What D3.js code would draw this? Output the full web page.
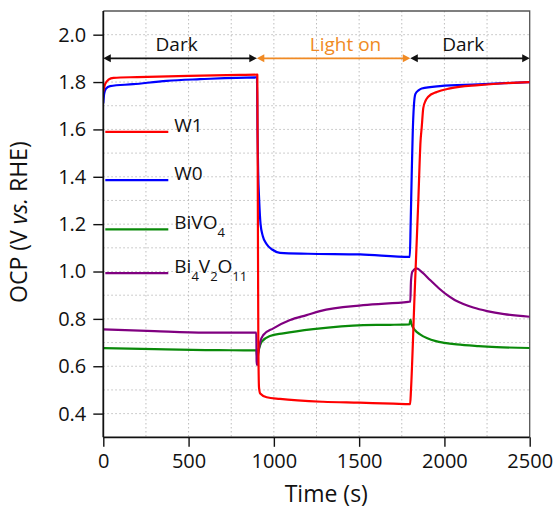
<!DOCTYPE html>
<meta charset="utf-8">
<style>
body { margin: 0; background: #fff; }
text { font-family: "Open Sans", sans-serif; fill: #111; }
.axis path, .axis line { stroke: #111; }
.grid line { stroke: #bdbdbd; stroke-dasharray: 1.5,2.5; }
.curve { fill: none; stroke-width: 2.2; stroke-linejoin: round; }
</style>
<body>
<script src="https://cdn.jsdelivr.net/npm/d3@7"></script>
<script>
// values: [time (s), OCP (V vs. RHE)]
var w1Data = [
    [0, 1.76], [10, 1.79], [30, 1.81], [60, 1.818], [200, 1.821], [500, 1.826], [800, 1.83], [903, 1.831],
    [906, 1.3], [909, 0.7], [913, 0.51], [920, 0.485], [958, 0.469], [1036, 0.462], [1288, 0.45],
    [1500, 0.446], [1700, 0.442], [1799, 0.44],
    [1804, 0.5], [1825, 0.9], [1847, 1.3], [1860, 1.55], [1867, 1.61], [1876, 1.69], [1890, 1.722],
    [1905, 1.738], [1955, 1.758], [2033, 1.773], [2200, 1.787], [2350, 1.795], [2500, 1.8]
]
var w0Data = [
    [0, 1.71], [5, 1.75], [15, 1.772], [40, 1.783], [175, 1.791], [372, 1.805], [567, 1.812], [901, 1.82],
    [904, 1.6], [908, 1.42], [914, 1.3], [922, 1.2], [935, 1.15], [958, 1.115], [990, 1.093],
    [1036, 1.079], [1200, 1.075], [1505, 1.072], [1797, 1.062],
    [1802, 1.2], [1808, 1.4], [1814, 1.58], [1821, 1.7], [1830, 1.75], [1850, 1.766], [1867, 1.773],
    [1974, 1.783], [2200, 1.79], [2500, 1.8]
]
var bivo4Data = [
    [0, 0.677], [300, 0.672], [600, 0.668], [898, 0.667], [902, 0.64], [910, 0.665], [929, 0.704],
    [977, 0.728], [1055, 0.739], [1231, 0.757], [1524, 0.774], [1681, 0.775], [1795, 0.777],
    [1801, 0.797], [1806, 0.78], [1828, 0.752], [1857, 0.735], [1900, 0.718], [1950, 0.706],
    [2000, 0.699], [2072, 0.692], [2200, 0.685], [2306, 0.681], [2500, 0.677]
]
var bi4v2o11Data = [
    [0, 0.756], [300, 0.748], [600, 0.742], [897, 0.742], [899, 0.62], [902, 0.605], [907, 0.645],
    [919, 0.7], [938, 0.732], [997, 0.76], [1095, 0.795], [1192, 0.816], [1270, 0.833], [1524, 0.858],
    [1788, 0.872], [1800, 0.873], [1804, 0.96], [1812, 1.0], [1837, 1.013], [1870, 0.996],
    [1916, 0.964], [1974, 0.925], [2013, 0.902], [2060, 0.88], [2111, 0.863], [2169, 0.848],
    [2250, 0.833], [2350, 0.82], [2500, 0.809]
]

var seriesNames = ['BiVO4', 'Bi4V2O11', 'W0', 'W1']
var seriesColors = ['#0a8a0a', '#800080', '#0000ff', '#ff0000']
var seriesData = [bivo4Data, bi4v2o11Data, w0Data, w1Data]

// legend, top to bottom
var legendNames = ['W1', 'W0', 'BiVO4', 'Bi4V2O11']
var legendLabels = [
    [['W1', 0]], [['W0', 0]],
    [['BiVO', 0], ['4', 1]],
    [['Bi', 0], ['4', 1], ['V', 0], ['2', 1], ['O', 0], ['11', 1]]
]

// period arrows at OCP = 1.9
var periodNames = ['Dark', 'Light on', 'Dark']
var periodStart = [0, 900, 1800]
var periodEnd = [900, 1800, 2500]
var periodLabelAt = [430, 1420, 2110]
var periodColors = ['#111', '#f08a24', '#111']

var xMajor = [0, 500, 1000, 1500, 2000, 2500]
var yMajor = [0.4, 0.6, 0.8, 1.0, 1.2, 1.4, 1.6, 1.8, 2.0]

var margin = { top: 11, right: 30.3, bottom: 72.7, left: 103.3 }
var width = 560 - margin.left - margin.right
var height = 510 - margin.top - margin.bottom

var x = d3.scaleLinear().domain([0, 2500]).range([0, width])
var y = d3.scaleLinear().domain([0.3, 2.1]).range([height, 0])

var svg = d3.select('body').append('svg')
    .attr('width', 560)
    .attr('height', 510)
    .append('g')
    .attr('transform', 'translate(' + margin.left + ',' + margin.top + ')')

svg.append('clipPath').attr('id', 'clip')
    .append('rect').attr('width', width).attr('height', height)

// dotted grid on every major and minor tick
var gridX = d3.range(250, 2500, 250)
var gridY = d3.range(4, 21).map(function (d) { return d / 10 })
var grid = svg.append('g').attr('class', 'grid')
grid.selectAll('.gx').data(gridX).enter().append('line')
    .attr('x1', x).attr('x2', x).attr('y1', 0).attr('y2', height)
grid.selectAll('.gy').data(gridY).enter().append('line')
    .attr('y1', y).attr('y2', y).attr('x1', 0).attr('x2', width)

// frame on top and right
svg.append('path')
    .attr('d', 'M0,0H' + width + 'V' + height)
    .attr('fill', 'none')
    .attr('stroke', '#555')
    .attr('stroke-width', 1.3)

var line = d3.line()
    .x(function (d) { return x(d[0]) })
    .y(function (d) { return y(d[1]) })
    .curve(d3.curveMonotoneX)

svg.append('g').attr('clip-path', 'url(#clip)')
    .selectAll('.curve')
    .data(seriesData)
    .enter().append('path')
    .attr('class', 'curve')
    .attr('stroke', function (d, i) { return seriesColors[i] })
    .attr('d', line)

// axes: major ticks with labels, minor ticks without
var gx = svg.append('g').attr('class', 'axis')
    .attr('transform', 'translate(0,' + height + ')')
gx.call(d3.axisBottom(x).tickValues(d3.range(250, 2500, 500)).tickSize(5).tickFormat(''))
gx.call(d3.axisBottom(x).tickValues(xMajor).tickSize(9.5).tickPadding(6).tickFormat(d3.format('d')))
var gy = svg.append('g').attr('class', 'axis')
gy.call(d3.axisLeft(y).tickValues([0.3, 0.5, 0.7, 0.9, 1.1, 1.3, 1.5, 1.7, 1.9, 2.1]).tickSize(5).tickFormat(''))
gy.call(d3.axisLeft(y).tickValues(yMajor).tickSize(10).tickPadding(7).tickFormat(d3.format('.1f')))
svg.selectAll('.axis path').attr('stroke-width', 1.8)
svg.selectAll('.axis line').attr('stroke-width', 1.4)
svg.selectAll('.axis text').style('font-size', '20px').attr('fill', '#111')
gx.selectAll('text').attr('dy', '0.78em')
gx.select('.domain').attr('d', 'M0,0H' + width)
gy.select('.domain').attr('d', 'M0,0V' + height)

// period arrows
var ay = y(1.9)
var periods = svg.selectAll('.period')
    .data(periodNames)
    .enter().append('g')
    .attr('class', 'period')
periods.append('line')
    .attr('x1', function (d, i) { return x(periodStart[i]) + 4 })
    .attr('x2', function (d, i) { return x(periodEnd[i]) - 4 })
    .attr('y1', ay).attr('y2', ay)
    .attr('stroke', function (d, i) { return periodColors[i] })
    .attr('stroke-width', 1.8)
periods.append('path')
    .attr('fill', function (d, i) { return periodColors[i] })
    .attr('d', function (d, i) {
        var a = x(periodStart[i]), b = x(periodEnd[i])
        return 'M' + a + ',' + ay + 'l7.5,-4v8z' +
            'M' + b + ',' + ay + 'l-7.5,-4v8z'
    })
periods.append('text')
    .attr('x', function (d, i) { return x(periodLabelAt[i]) })
    .attr('y', ay - 7)
    .attr('text-anchor', 'middle')
    .style('font-size', '19px')
    .style('fill', function (d, i) { return periodColors[i] })
    .text(function (d) { return d })

// legend
var legendY = [1.59, 1.386, 1.178, 0.993]
var legend = svg.selectAll('.legend')
    .data(legendNames)
    .enter().append('g')
    .attr('class', 'legend')
    .attr('transform', function (d, i) { return 'translate(2,' + y(legendY[i]) + ')' })
legend.append('line')
    .attr('x1', 0).attr('x2', 63)
    .attr('stroke-width', 2.2)
    .attr('stroke', function (d) { return seriesColors[seriesNames.indexOf(d)] })
legend.append('text')
    .attr('x', 69)
    .attr('dy', '0.36em')
    .style('font-size', '19px')
    .each(function (d, i) {
        var t = d3.select(this)
        var sub = false
        legendLabels[i].forEach(function (p) {
            var dy = p[1] && !sub ? 8 : (!p[1] && sub ? -8 : 0)
            sub = !!p[1]
            t.append('tspan')
                .attr('dy', dy)
                .style('font-size', p[1] ? '13px' : '19px')
                .text(p[0])
        })
    })

// axis titles
svg.append('text')
    .attr('x', 223)
    .attr('y', 491)
    .attr('text-anchor', 'middle')
    .style('font-size', '23px')
    .text('Time (s)')
var yt = svg.append('text')
    .attr('transform', 'translate(-76,' + (height / 2 - 2) + ') rotate(-90)')
    .attr('text-anchor', 'middle')
    .style('font-size', '23px')
yt.append('tspan').text('OCP (V ')
yt.append('tspan').style('font-style', 'italic').text('vs.')
yt.append('tspan').text(' RHE)')
</script>
</body>
